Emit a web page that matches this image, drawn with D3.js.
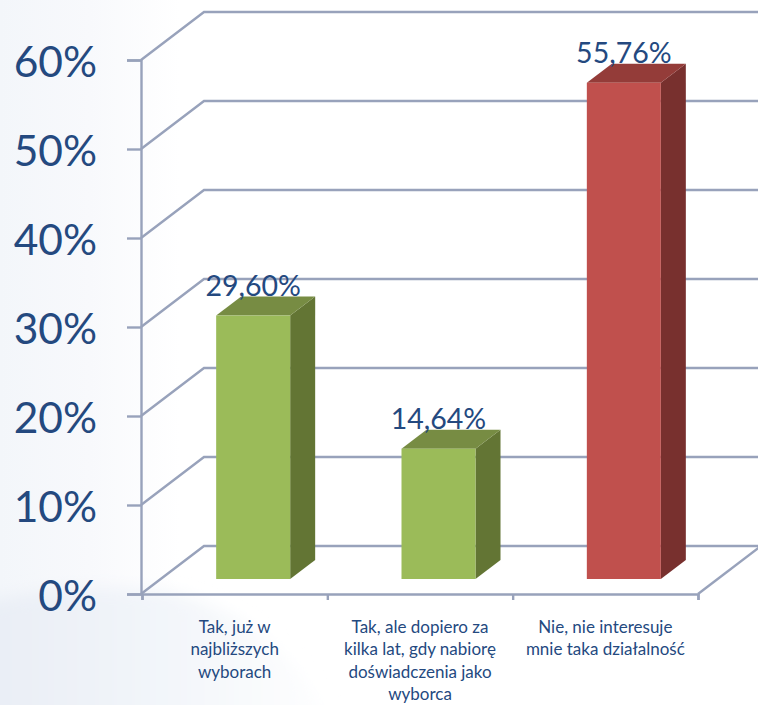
<!DOCTYPE html>
<html>
<head>
<meta charset="utf-8">
<script src="https://cdn.jsdelivr.net/npm/d3@7"></script>
<style>
  html, body { margin: 0; padding: 0; background: #fff; overflow: hidden; }
  text { font-family: Lato, "Open Sans", sans-serif; }
</style>
</head>
<body>
<svg id="chart" width="758" height="705"></svg>
<script>
// values
const categories = ['Tak, już w najbliższych wyborach', 'Tak, ale dopiero za kilka lat, gdy nabiorę doświadczenia jako wyborca', 'Nie, nie interesuje mnie taka działalność'];
const categoryLines = [
    ['Tak, już w', 'najbliższych', 'wyborach'],
    ['Tak, ale dopiero za', 'kilka lat, gdy nabiorę', 'doświadczenia jako', 'wyborca'],
    ['Nie, nie interesuje', 'mnie taka działalność'],
];
const values = [29.60, 14.64, 55.76];
const valueLabels = ['29,60%', '14,64%', '55,76%'];
const yTicks = [0, 10, 20, 30, 40, 50, 60];

const barColors = [
    { front: '#9bbb59', top: '#778c43', side: '#637534' },
    { front: '#9bbb59', top: '#778c43', side: '#637534' },
    { front: '#c0504d', top: '#943c39', side: '#78302e' },
];
const textColor = '#24497f';
const lineColor = '#98a2bb';

const svg = d3.select('#chart');

// soft background of the slide
const defs = svg.append('defs');
const leftGrad = defs.append('linearGradient').attr('id', 'leftFade');
leftGrad.append('stop').attr('offset', 0).attr('stop-color', '#f3f6fa');
leftGrad.append('stop').attr('offset', 0.5).attr('stop-color', '#f8f9fc');
leftGrad.append('stop').attr('offset', 1).attr('stop-color', '#ffffff');
const bottomGrad = defs.append('linearGradient').attr('id', 'bottomFade');
bottomGrad.append('stop').attr('offset', 0).attr('stop-color', '#e8edf5');
bottomGrad.append('stop').attr('offset', 0.55).attr('stop-color', '#f3f6fa');
bottomGrad.append('stop').attr('offset', 1).attr('stop-color', '#ffffff');
const blur = defs.append('filter').attr('id', 'soft');
blur.append('feGaussianBlur').attr('stdDeviation', 8);

svg.append('rect').attr('width', 180).attr('height', 705).attr('fill', 'url(#leftFade)');
svg.append('path')
    .attr('d', 'M-30,606 C50,585 110,585 170,592 C250,610 300,660 340,735 L-30,735 Z')
    .attr('fill', 'url(#bottomFade)')
    .attr('filter', 'url(#soft)');

const yScale = d3.scaleLinear().domain([0, 60]).range([594, 60]);
const xScale = d3.scaleBand().domain(categories).range([142, 698]);
const xEdges = d3.scaleLinear().domain([0, 3]).range([142, 698]);

const depthX = 63, depthY = -48;   // depth of the 3d box
const barW = 74, barDX = 25, barDY = -19;
const barShiftX = 18.5, barShiftY = -15;

// gridlines on the back wall
const line = d3.line();
const grid = svg.append('g').attr('fill', 'none').attr('stroke', lineColor).attr('stroke-width', 2.4);
yTicks.forEach((t) => {
    const y = yScale(t);
    grid.append('path').attr('d', line([[141, y], [141 + depthX, y + depthY], [770, y + depthY]]));
});
// right edge of the floor
grid.append('path').attr('d', line([[698, yScale(0)], [698 + depthX, yScale(0) + depthY]]));

// y axis
const yAxis = d3.axisLeft(yScale)
    .tickValues(yTicks)
    .tickSize(14)
    .tickPadding(30)
    .tickFormat((d) => d + '%');
const yAxisGroup = svg.append('g').attr('transform', 'translate(141,0)').call(yAxis);
yAxisGroup.select('.domain').attr('stroke', lineColor).attr('stroke-width', 2.4);
yAxisGroup.selectAll('line').attr('stroke', lineColor).attr('stroke-width', 2.4);
yAxisGroup.selectAll('text')
    .attr('fill', textColor)
    .attr('font-size', 42.5)
    .attr('dy', '0.38em');

// x axis, ticks only, the labels wrap so they go in below
const xAxis = d3.axisBottom(xEdges).tickValues([0, 1, 2, 3]).tickSize(6).tickFormat('');
const xAxisGroup = svg.append('g').attr('transform', `translate(0,${yScale(0)})`).call(xAxis);
xAxisGroup.select('.domain').attr('stroke', lineColor).attr('stroke-width', 2.4);
xAxisGroup.selectAll('line').attr('stroke', lineColor).attr('stroke-width', 2.4);

// bars
categories.forEach((c, i) => {
    const x0 = xScale(c) + xScale.bandwidth() / 2 + barShiftX - barW / 2;
    const x1 = x0 + barW;
    const yb = yScale(0) + barShiftY;
    const yt = yScale(values[i]) + barShiftY;
    const bar = svg.append('g');
    bar.append('path').attr('fill', barColors[i].side)
        .attr('d', line([[x1, yt], [x1 + barDX, yt + barDY], [x1 + barDX, yb + barDY], [x1, yb]]) + 'Z');
    bar.append('path').attr('fill', barColors[i].top)
        .attr('d', line([[x0, yt], [x0 + barDX, yt + barDY], [x1 + barDX, yt + barDY], [x1, yt]]) + 'Z');
    bar.append('rect').attr('fill', barColors[i].front)
        .attr('x', x0).attr('y', yt).attr('width', barW).attr('height', yb - yt);
    svg.append('text')
        .attr('x', (x0 + x1) / 2)
        .attr('y', yt + barDY - 1)
        .attr('text-anchor', 'middle')
        .attr('fill', textColor)
        .attr('font-size', 28.5)
        .text(valueLabels[i]);
});

// category labels
categories.forEach((c, i) => {
    const label = svg.append('text')
        .attr('text-anchor', 'middle')
        .attr('fill', textColor)
        .attr('font-size', 17);
    categoryLines[i].forEach((l, j) => {
        label.append('tspan')
            .attr('x', xScale(c) + xScale.bandwidth() / 2)
            .attr('y', 633 + j * 22.4)
            .text(l);
    });
});
</script>
</body>
</html>
